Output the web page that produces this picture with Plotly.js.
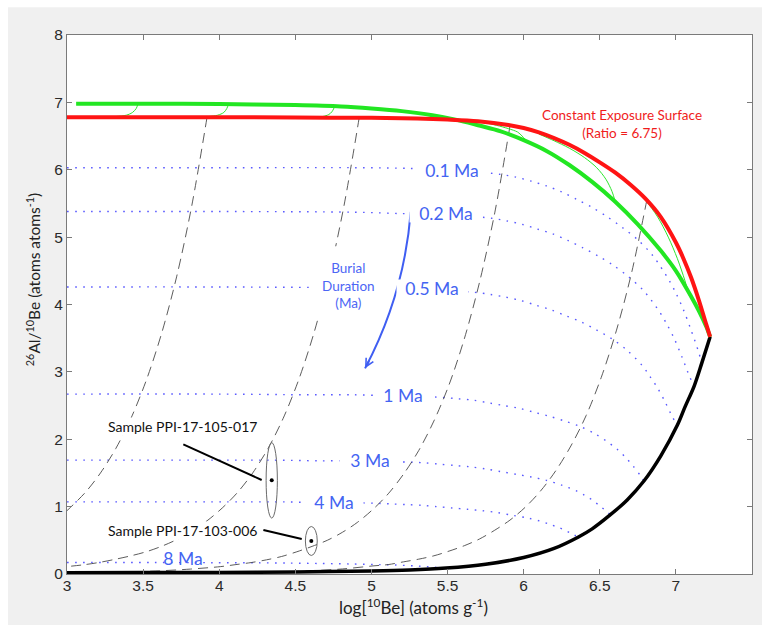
<!DOCTYPE html>
<html><head><meta charset="utf-8">
<script src="https://cdn.plot.ly/plotly-3.0.1.min.js"></script>
<style>html,body{margin:0;padding:0;background:#fff}#chart{width:762px;height:625px}</style>
</head><body><div id="chart"></div>
<script>
// ---- Constant exposure surface (red) ----
var redX = [3, 4, 4.5, 5, 5.3, 5.5, 5.7, 5.9, 6.0, 6.1, 6.2, 6.3, 6.4, 6.5, 6.6, 6.7, 6.8, 6.9, 7.0, 7.05, 7.1, 7.15, 7.2, 7.225];
var redY = [6.78, 6.78, 6.775, 6.77, 6.76, 6.745, 6.72, 6.665, 6.62, 6.555, 6.47, 6.37, 6.25, 6.11, 5.96, 5.78, 5.57, 5.3, 4.92, 4.68, 4.4, 4.07, 3.7, 3.52];
// ---- Steady erosion curve (green) ----
var greenX = [3.06, 3.5, 4, 4.5, 4.8, 5.0, 5.2, 5.4, 5.56, 5.7, 5.85, 6.0, 6.15, 6.3, 6.45, 6.6, 6.75, 6.9, 7.0, 7.1, 7.15, 7.2, 7.225];
var greenY = [6.98, 6.98, 6.975, 6.96, 6.94, 6.91, 6.87, 6.81, 6.74, 6.66, 6.57, 6.44, 6.28, 6.07, 5.82, 5.53, 5.19, 4.8, 4.5, 4.12, 3.91, 3.67, 3.52];
// ---- Burial path of saturated endpoint (black) ----
var blackX = [3, 3.5, 4, 4.5, 5, 5.25, 5.49, 5.75, 6.0, 6.2, 6.36, 6.45, 6.57, 6.68, 6.79, 6.9, 7.01, 7.06, 7.12, 7.17, 7.225];
var blackY = [0.02, 0.021, 0.024, 0.03, 0.045, 0.06, 0.088, 0.145, 0.245, 0.38, 0.55, 0.67, 0.88, 1.1, 1.38, 1.75, 2.21, 2.48, 2.79, 3.13, 3.52];

// ---- Burial isochrons (blue dotted) ----
var isoLabels = ['0.1 Ma', '0.2 Ma', '0.5 Ma', '1 Ma', '3 Ma', '4 Ma', '8 Ma'];
var isoAX = [3, 4.0, 4.95, 5.25, 5.45, 5.65, 5.85, 5.95, 6.05, 6.15, 6.25, 6.35, 6.45, 6.55, 6.65, 6.75, 6.85, 6.95, 7.0, 7.05, 7.1, 7.15, 7.17];
var isoAY = [6.03, 6.03, 6.03, 6.02, 6.0, 5.98, 5.93, 5.89, 5.83, 5.76, 5.67, 5.56, 5.44, 5.30, 5.14, 4.96, 4.72, 4.38, 4.17, 3.92, 3.62, 3.29, 3.13];
var isoBX = [3, 4.0, 4.89, 5.19, 5.39, 5.59, 5.79, 5.89, 5.99, 6.09, 6.19, 6.29, 6.39, 6.49, 6.59, 6.69, 6.79, 6.89, 6.94, 6.99, 7.04, 7.09, 7.12];
var isoBY = [5.38, 5.38, 5.37, 5.35, 5.34, 5.32, 5.28, 5.24, 5.19, 5.12, 5.05, 4.95, 4.84, 4.72, 4.58, 4.41, 4.20, 3.90, 3.71, 3.49, 3.22, 2.93, 2.79];
var isoCX = [3, 4.0, 4.78, 5.08, 5.28, 5.48, 5.68, 5.78, 5.88, 5.98, 6.08, 6.18, 6.28, 6.38, 6.48, 6.58, 6.68, 6.78, 6.83, 6.88, 6.93, 6.98, 7.01];
var isoCY = [4.26, 4.26, 4.25, 4.24, 4.23, 4.21, 4.18, 4.15, 4.11, 4.06, 3.99, 3.92, 3.83, 3.74, 3.62, 3.49, 3.32, 3.09, 2.93, 2.76, 2.55, 2.32, 2.21];
var isoDX = [3, 4.0, 4.57, 4.87, 5.07, 5.27, 5.47, 5.57, 5.67, 5.77, 5.87, 5.97, 6.07, 6.17, 6.27, 6.37, 6.47, 6.57, 6.62, 6.67, 6.72, 6.77, 6.79];
var isoDY = [2.67, 2.67, 2.66, 2.66, 2.65, 2.64, 2.62, 2.60, 2.58, 2.54, 2.50, 2.46, 2.40, 2.34, 2.27, 2.19, 2.08, 1.93, 1.84, 1.73, 1.60, 1.45, 1.38];
var isoEX = [3, 4.0, 4.35, 4.65, 4.85, 5.05, 5.25, 5.35, 5.45, 5.55, 5.65, 5.75, 5.85, 5.95, 6.05, 6.15, 6.25, 6.35, 6.4, 6.45, 6.5, 6.55, 6.57];
var isoEY = [1.69, 1.69, 1.69, 1.68, 1.68, 1.67, 1.66, 1.65, 1.63, 1.61, 1.59, 1.56, 1.52, 1.48, 1.44, 1.39, 1.32, 1.23, 1.17, 1.10, 1.01, 0.92, 0.88];
var isoFX = [3, 4.13, 4.43, 4.63, 4.83, 5.03, 5.13, 5.23, 5.33, 5.43, 5.53, 5.63, 5.73, 5.83, 5.93, 6.03, 6.13, 6.18, 6.23, 6.28, 6.33, 6.36];
var isoFY = [1.07, 1.07, 1.07, 1.06, 1.06, 1.05, 1.04, 1.03, 1.02, 1.00, 0.98, 0.96, 0.94, 0.91, 0.87, 0.83, 0.77, 0.73, 0.69, 0.64, 0.58, 0.55];
var isoGX = [3, 3.56, 3.96, 4.26, 4.46, 4.66, 4.86, 5.06, 5.16, 5.26, 5.31, 5.36, 5.41, 5.46, 5.49];
var isoGY = [0.17, 0.17, 0.168, 0.166, 0.162, 0.156, 0.149, 0.139, 0.133, 0.123, 0.117, 0.110, 0.102, 0.093, 0.088];

// ---- Burial paths from the exposure surface (black dashed) ----
var path1X = [3.92, 3.82, 3.72, 3.62, 3.52, 3.42, 3.32, 3.22, 3.12, 3.0];
var path1Y = [6.78, 5.47, 4.41, 3.56, 2.87, 2.31, 1.86, 1.50, 1.21, 0.94];
var path2X = [4.92, 4.82, 4.72, 4.62, 4.52, 4.42, 4.32, 4.22, 4.12, 4.02, 3.92, 3.82, 3.72, 3.62, 3.52, 3.42, 3.32, 3.22, 3.12, 3.0];
var path2Y = [6.78, 5.47, 4.41, 3.56, 2.87, 2.31, 1.86, 1.50, 1.21, 0.98, 0.79, 0.64, 0.51, 0.41, 0.33, 0.27, 0.22, 0.175, 0.14, 0.11];
var path3X = [5.91, 5.81, 5.71, 5.61, 5.51, 5.41, 5.31, 5.21, 5.11, 5.01, 4.91, 4.81, 4.71, 4.61, 4.51, 4.41, 4.31, 4.21, 4.11, 4.01, 3.81, 3.61, 3.41, 3.21, 3.0];
var path3Y = [6.65, 5.36, 4.33, 3.49, 2.81, 2.27, 1.83, 1.48, 1.19, 0.96, 0.77, 0.62, 0.50, 0.41, 0.33, 0.26, 0.21, 0.17, 0.14, 0.11, 0.073, 0.047, 0.031, 0.02, 0.013];
var path4X = [6.81, 6.71, 6.61, 6.51, 6.41, 6.31, 6.21, 6.11, 6.01, 5.91, 5.81, 5.71, 5.61, 5.51, 5.41, 5.31, 5.21, 5.11, 5.01, 4.81, 4.61, 4.41, 4.11, 3.81, 3.41, 3.0];
var path4Y = [5.56, 4.48, 3.62, 2.92, 2.35, 1.90, 1.53, 1.23, 0.99, 0.80, 0.65, 0.52, 0.42, 0.34, 0.27, 0.22, 0.18, 0.14, 0.12, 0.075, 0.049, 0.032, 0.017, 0.009, 0.004, 0.0016];

// ---- Thin green connecting arcs ----
var arc1X = [3.22, 3.32, 3.39, 3.43, 3.455, 3.465];
var arc1Y = [6.78, 6.79, 6.81, 6.85, 6.91, 6.97];
var arc2X = [3.84, 3.93, 3.99, 4.03, 4.05, 4.06];
var arc2Y = [6.78, 6.79, 6.81, 6.85, 6.91, 6.97];
var arc3X = [4.62, 4.68, 4.72, 4.74, 4.755];
var arc3Y = [6.78, 6.79, 6.82, 6.86, 6.92];
var arc4X = [5.72, 5.82, 5.9, 5.96, 5.99, 6.01];
var arc4Y = [6.71, 6.66, 6.61, 6.56, 6.50, 6.45];
var arc5X = [6.1, 6.2, 6.3, 6.4, 6.48, 6.54, 6.58, 6.6];
var arc5Y = [6.53, 6.43, 6.32, 6.18, 6.03, 5.86, 5.68, 5.54];
var arc6X = [6.72, 6.8, 6.88, 6.95, 7.01, 7.06, 7.09];
var arc6Y = [5.76, 5.55, 5.30, 5.0, 4.68, 4.35, 4.12];

// ---- Samples ----
var sampleNames = ['Sample PPI-17-105-017', 'Sample PPI-17-103-006'];
var sampleX = [4.345, 4.605];
var sampleY = [1.39, 0.49];
var sampleSigX = [0.037, 0.039];
var sampleSigY = [0.56, 0.215];

// ---------- styles ----------
var BLUE_DOT = {color: '#5a5aff', width: 1.4, dash: '1.6px,6.4px', shape: 'spline', smoothing: 0.9};
var DASH = {color: '#4a4a4a', width: 0.9, dash: '10px,6px', shape: 'spline', smoothing: 0.9};
var THIN_G = {color: '#2ee62e', width: 1, shape: 'spline', smoothing: 0.9};
var LBL = '#4464f2';

function ln(x, y, line) { return {x: x, y: y, mode: 'lines', line: line, hoverinfo: 'skip', showlegend: false}; }

var traces = [
  ln(isoAX, isoAY, BLUE_DOT), ln(isoBX, isoBY, BLUE_DOT), ln(isoCX, isoCY, BLUE_DOT),
  ln(isoDX, isoDY, BLUE_DOT), ln(isoEX, isoEY, BLUE_DOT), ln(isoFX, isoFY, BLUE_DOT), ln(isoGX, isoGY, BLUE_DOT),
  ln(path1X, path1Y, DASH), ln(path2X, path2Y, DASH), ln(path3X, path3Y, DASH), ln(path4X, path4Y, DASH),
  ln(arc1X, arc1Y, THIN_G), ln(arc2X, arc2Y, THIN_G), ln(arc3X, arc3Y, THIN_G),
  ln(arc4X, arc4Y, THIN_G), ln(arc5X, arc5Y, THIN_G), ln(arc6X, arc6Y, THIN_G),
  ln(blackX, blackY, {color: '#000000', width: 3.5, shape: 'spline', smoothing: 0.9}),
  ln(greenX, greenY, {color: '#22e622', width: 4, shape: 'spline', smoothing: 0.9}),
  ln(redX, redY, {color: '#ff1414', width: 4, shape: 'spline', smoothing: 0.9}),
  {x: sampleX, y: sampleY, mode: 'markers', marker: {color: '#000', size: 4}, hoverinfo: 'skip', showlegend: false}
];

// label placement (layout)
var isoLabelPos = [[5.526, 5.99, 68], [5.49, 5.35, 70], [5.398, 4.24, 68], [5.208, 2.655, 54], [4.99, 1.68, 58], [4.755, 1.06, 56], [3.76, 0.23, 42]];

var annotations = isoLabels.map(function (t, i) {
  var p = isoLabelPos[i];
  return {x: p[0], y: p[1], xref: 'x', yref: 'y', text: t, showarrow: false,
    font: {family: 'Lato', size: 17.5, color: LBL}, bgcolor: i === 6 ? 'rgba(255,255,255,0)' : '#ffffff',
    width: p[2], height: 15, borderpad: 1};
});
annotations.push({x: 6.647, y: 6.684, xref: 'x', yref: 'y', showarrow: false,
  text: 'Constant Exposure Surface<br>(Ratio = 6.75)', font: {family: 'Lato', size: 13.5, color: '#f01c1c'}});
annotations.push({x: 4.846, y: 4.288, xref: 'x', yref: 'y', showarrow: false,
  text: 'Burial<br>Duration<br>(Ma)', font: {family: 'Lato', size: 13.5, color: '#4c66f5'}});
// arrowhead of the curved blue arrow
annotations.push({x: 4.958, y: 3.052, xref: 'x', yref: 'y', ax: 7, ay: -13, text: ' ', showarrow: true,
  arrowhead: 5, arrowsize: 0.8, arrowwidth: 2, arrowcolor: '#3f5ef2', standoff: 0});
var sampleLabelPos = [[3.759, 2.196], [3.759, 0.653]];
sampleNames.forEach(function (n, i) {
  annotations.push({x: sampleLabelPos[i][0], y: sampleLabelPos[i][1], xref: 'x', yref: 'y', text: n, showarrow: false,
    font: {family: 'Lato', size: 14, color: '#111'}, bgcolor: '#ffffff', borderpad: 0});
});
// axis titles
annotations.push({x: 0.5063, y: -0.0612, xref: 'paper', yref: 'paper', xanchor: 'center', yanchor: 'middle', showarrow: false,
  text: 'log[<sup>10</sup>Be] (atoms g<sup>-1</sup>)', font: {family: 'Lato', size: 17, color: '#222'}});
annotations.push({x: -0.0496, y: 0.5451, xref: 'paper', yref: 'paper', xanchor: 'center', yanchor: 'middle', showarrow: false, textangle: -90,
  text: '<sup>26</sup>Al/<sup>10</sup>Be (atoms atoms<sup>-1</sup>)', font: {family: 'Lato', size: 15.5, color: '#222'}});

var shapes = [
  {type: 'rect', xref: 'paper', yref: 'paper', x0: -0.2, x1: 1.2, y0: 1.0514, y1: 1.3, fillcolor: '#ffffff', line: {width: 0}, layer: 'below'},
  {type: 'rect', xref: 'paper', yref: 'paper', x0: -0.2, x1: -0.0861, y0: -0.2, y1: 1.3, fillcolor: '#ffffff', line: {width: 0}, layer: 'below'},
  // white mask behind "Burial Duration" text
  {type: 'rect', xref: 'x', yref: 'y', x0: 4.59, x1: 5.635, y0: 3.83, y1: 4.866, fillcolor: '#ffffff', line: {width: 0}, layer: 'above'},
  // curved blue arrow
  {type: 'path', xref: 'x', yref: 'y', path: 'M 5.258,5.375 Q 5.2155,4.154 4.958,3.052', line: {color: '#3f5ef2', width: 2}, layer: 'above'},
  // callout lines
  {type: 'line', xref: 'x', yref: 'y', x0: 3.764, y0: 1.924, x1: 4.279, y1: 1.395, line: {color: '#000', width: 2}, layer: 'above'},
  {type: 'line', xref: 'x', yref: 'y', x0: 4.29, y0: 0.653, x1: 4.542, y1: 0.519, line: {color: '#000', width: 2}, layer: 'above'}
];
sampleX.forEach(function (sx, i) {
  shapes.push({type: 'circle', xref: 'x', yref: 'y', x0: sx - sampleSigX[i], x1: sx + sampleSigX[i],
    y0: sampleY[i] - sampleSigY[i], y1: sampleY[i] + sampleSigY[i], line: {color: '#6a6a6a', width: 1}, layer: 'above'});
});

var axisCommon = {ticks: 'inside', ticklen: 5, tickcolor: '#7a7a7a', showline: true, linecolor: '#7a7a7a', linewidth: 1,
  mirror: 'ticks', showgrid: false, zeroline: false, tickfont: {family: 'Liberation Sans', size: 15.5, color: '#2a2a2a'}};

var layout = {
  width: 762, height: 625, margin: {l: 67, r: 10, t: 35, b: 51},
  paper_bgcolor: '#f0f0f0', plot_bgcolor: '#ffffff', showlegend: false, hovermode: false,
  xaxis: Object.assign({range: [3, 7.5], tick0: 3, dtick: 0.5, ticklabelstandoff: -3}, axisCommon),
  yaxis: Object.assign({range: [0, 8], tick0: 0, dtick: 1}, axisCommon),
  annotations: annotations, shapes: shapes
};

Plotly.newPlot('chart', traces, layout, {staticPlot: true, displayModeBar: false});
</script></body></html>
